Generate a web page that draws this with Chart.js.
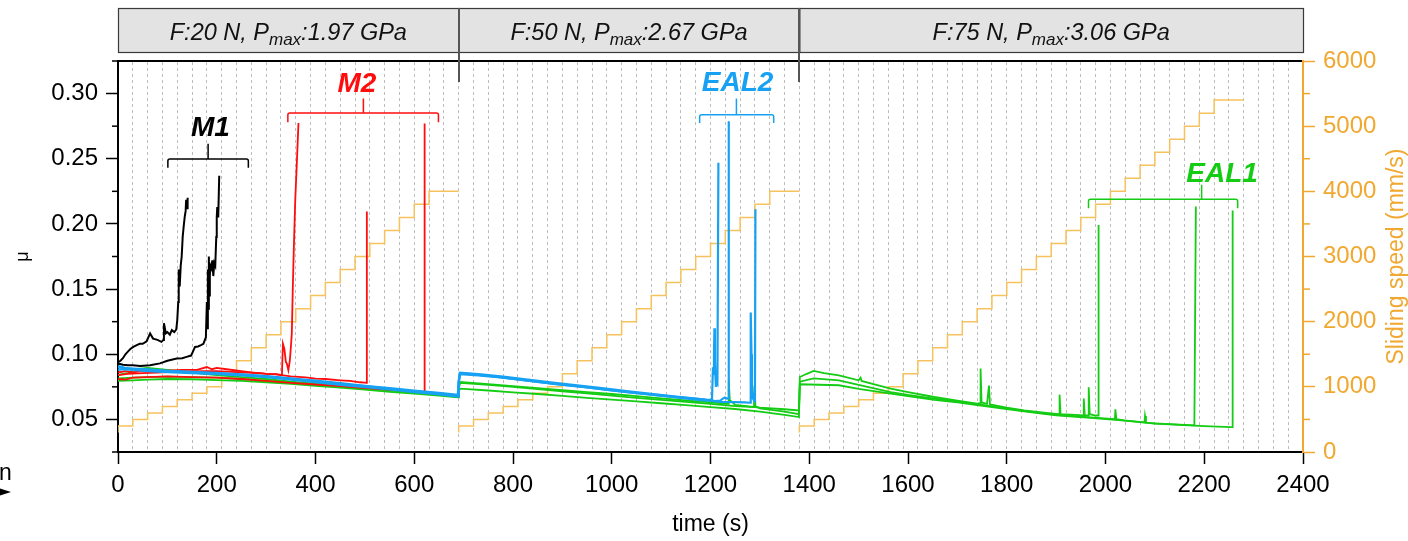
<!DOCTYPE html>
<html><head><meta charset="utf-8">
<script src="https://cdn.jsdelivr.net/npm/chart.js@4/dist/chart.umd.min.js"></script>
<style>html,body{margin:0;padding:0;background:#fff;overflow:hidden}canvas{display:block}</style>
</head><body>
<canvas id="c" width="1408" height="541"></canvas>
<script>
// ---------- tick labels ----------
const timeTicks = [0, 200, 400, 600, 800, 1000, 1200, 1400, 1600, 1800, 2000, 2200, 2400];
const muTicks = [0.05, 0.10, 0.15, 0.20, 0.25, 0.30];
const muMinorTicks = [0.025, 0.075, 0.125, 0.175, 0.225, 0.275, 0.325];
const speedTicks = [0, 1000, 2000, 3000, 4000, 5000, 6000];
const speedMinorTicks = [500, 1500, 2500, 3500, 4500, 5500];

// ---------- load stages ----------
const stageBounds = [0, 690, 1380, 2400];
const stageLoad = ['F:20 N, P', 'F:50 N, P', 'F:75 N, P'];
const stagePressure = [':1.97 GPa', ':2.67 GPa', ':3.06 GPa'];

// ---------- sliding speed staircase ----------
const speedTime1 = [0,30,60,90,120,150,180,210,240,270,300,330,360,390,420,450,480,510,540,570,600,630,660,690];
const speedLevel1 = [300,400,500,600,700,800,900,1000,1200,1400,1600,1800,2000,2200,2400,2600,2800,3000,3200,3400,3600,3800,4000,4000];
const speedTime2 = [690,720,750,780,810,840,870,900,930,960,990,1020,1050,1080,1110,1140,1170,1200,1230,1260,1290,1320,1350,1380];
const speedLevel2 = [300,400,500,600,700,800,900,1000,1200,1400,1600,1800,2000,2200,2400,2600,2800,3000,3200,3400,3600,3800,4000,4000];
const speedTime3 = [1380,1410,1440,1470,1500,1530,1560,1590,1620,1650,1680,1710,1740,1770,1800,1830,1860,1890,1920,1950,1980,2010,2040,2070,2100,2130,2160,2190,2220,2250,2280];
const speedLevel3 = [300,400,500,600,700,800,900,1000,1200,1400,1600,1800,2000,2200,2400,2600,2800,3000,3200,3400,3600,3800,4000,4200,4400,4600,4800,5000,5200,5400,5400];

// ---------- friction: M1 (black) ----------
const m1aTime = [0,5,10,15,20,25,31,38,44,50,58,65,71,80,88,92,93,97,100,105,109,114,118,120,122,123,125,127,129,131,133,135,137,138,140,141];
const m1aMu = [0.094,0.095,0.097,0.1,0.102,0.104,0.1056,0.107,0.108,0.108,0.11,0.116,0.112,0.111,0.1095,0.111,0.1238,0.116,0.117,0.115,0.1185,0.117,0.119,0.126,0.14,0.165,0.152,0.168,0.175,0.19,0.198,0.205,0.21,0.2185,0.212,0.22];
const m1bTime = [0,10,20,30,45,65,85,100,119,130,139,148,156,162,168,173,176,178,180,181,182,183,184,185,186,187,189,191,193,195,197,199,200,201,203,205];
const m1bMu = [0.093,0.092,0.0915,0.0915,0.091,0.0915,0.093,0.095,0.0967,0.097,0.098,0.099,0.1056,0.106,0.107,0.108,0.111,0.113,0.14,0.12,0.165,0.135,0.175,0.145,0.16,0.168,0.166,0.172,0.16,0.17,0.168,0.19,0.205,0.213,0.205,0.237];

// ---------- friction: M2 (red) ----------
const m2aTime = [0,15,30,50,75,100,130,160,180,190,200,220,250,280,300,320,332,334,337,340,342,345,348,350,352,354,356,359,362,365.5];
const m2aMu = [0.086,0.087,0.086,0.0875,0.087,0.0875,0.088,0.088,0.0902,0.0885,0.0895,0.0885,0.087,0.0855,0.085,0.0848,0.084,0.108,0.104,0.094,0.0928,0.0877,0.095,0.105,0.116,0.15,0.18,0.2185,0.245,0.2774];
const m2bTime = [0,20,50,80,110,140,170,200,230,260,290,300,320,350,380,400,420,450,470,490,500,503,504];
const m2bMu = [0.084,0.085,0.0855,0.086,0.0865,0.0865,0.087,0.087,0.0865,0.086,0.0855,0.085,0.0845,0.083,0.0822,0.0813,0.081,0.08,0.0795,0.0785,0.0782,0.078,0.2095];
const m2cTime = [0,15,30,60,100,150,200,250,300,350,400,450,500,550,600,620,621];
const m2cMu = [0.081,0.0805,0.082,0.0825,0.083,0.0825,0.082,0.081,0.0795,0.078,0.0768,0.0755,0.074,0.0728,0.0715,0.071,0.277];

// ---------- friction: EAL2 (blue) ----------
const eal2aTime = [0,10,20,40,60,90,120,150,180,210,240,270,300,350,400,450,500,550,600,650,688,690,692,720,760,800,850,900,950,1000,1050,1100,1150,1190,1203,1205,1206,1207,1208,1209,1210,1211,1212,1214,1216];
const eal2aMu = [0.091,0.09,0.089,0.0885,0.088,0.0875,0.0868,0.086,0.0855,0.085,0.0845,0.0838,0.083,0.081,0.079,0.077,0.0755,0.0735,0.0715,0.0697,0.068,0.079,0.0855,0.0845,0.083,0.081,0.0788,0.0765,0.0745,0.0722,0.0703,0.0683,0.0665,0.0652,0.065,0.09,0.085,0.1,0.12,0.095,0.083,0.075,0.078,0.077,0.247];
const eal2bTime = [0,10,30,60,100,150,200,250,300,350,400,450,500,550,600,650,689,690,693,730,780,830,880,930,980,1030,1080,1130,1180,1210,1220,1225,1229,1233,1236,1237];
const eal2bMu = [0.088,0.0885,0.088,0.087,0.0862,0.0855,0.0848,0.0838,0.0825,0.0805,0.0785,0.0765,0.0748,0.073,0.071,0.0692,0.0675,0.078,0.0848,0.0838,0.082,0.0798,0.0775,0.0755,0.0733,0.071,0.069,0.0668,0.0648,0.064,0.0645,0.066,0.0668,0.066,0.0662,0.2787];
const eal2cTime = [0,10,30,60,100,150,200,250,300,350,400,450,500,550,600,650,689,690,693,730,780,830,880,930,980,1030,1080,1130,1180,1220,1250,1270,1280,1281,1282,1283,1284,1285,1286,1288,1290,1291];
const eal2cMu = [0.09,0.0895,0.089,0.0885,0.0872,0.0865,0.0858,0.0845,0.0833,0.0815,0.0798,0.0778,0.0758,0.074,0.0722,0.0703,0.0688,0.079,0.0858,0.0848,0.0828,0.0805,0.0783,0.0762,0.074,0.0718,0.0697,0.0675,0.0655,0.0635,0.0632,0.063,0.0628,0.09,0.132,0.1,0.075,0.07,0.066,0.0645,0.064,0.2113];

// ---------- friction: EAL1 (green) ----------
const eal1aTime = [0,10,20,30,32,60,100,150,200,250,300,350,400,450,500,550,600,650,689,690,693,750,800,850,900,950,1000,1050,1100,1150,1200,1236,1237,1239,1250,1300,1350,1379,1381,1395,1409,1430,1460,1500,1504,1506,1530,1565,1600,1653,1700,1740,1746,1747,1749,1760,1764,1766,1800,1835,1880,1906,1907,1909,1940,1955,1956,1958,1965,1966,1968,1980,1985,1986];
const eal1aMu = [0.084,0.085,0.0855,0.087,0.0885,0.0895,0.088,0.086,0.084,0.0825,0.081,0.079,0.0775,0.0762,0.075,0.073,0.0715,0.0698,0.0685,0.075,0.0787,0.077,0.0755,0.074,0.0725,0.071,0.0695,0.0678,0.0662,0.0645,0.063,0.062,0.08,0.065,0.0612,0.059,0.0578,0.0569,0.0825,0.085,0.0872,0.0855,0.0838,0.08,0.082,0.0795,0.077,0.0736,0.071,0.0672,0.0645,0.0621,0.0625,0.089,0.063,0.062,0.076,0.0615,0.059,0.0569,0.055,0.054,0.069,0.054,0.0535,0.053,0.066,0.0532,0.053,0.0746,0.054,0.053,0.053,0.1992];
const eal1bTime = [0,30,60,100,150,200,250,300,350,400,450,500,550,600,650,689,690,693,750,800,850,900,950,1000,1050,1100,1150,1200,1250,1288,1289,1291,1300,1350,1379,1381,1409,1460,1500,1565,1600,1653,1700,1740,1800,1835,1900,1970,2019,2020,2022,2038,2079,2080,2082,2100,2150,2180,2183];
const eal1bMu = [0.0815,0.082,0.0825,0.0828,0.0825,0.082,0.081,0.0795,0.078,0.0768,0.0752,0.0738,0.0722,0.0705,0.0688,0.0675,0.074,0.078,0.0765,0.075,0.0733,0.0716,0.07,0.0683,0.0666,0.065,0.0635,0.062,0.0602,0.0595,0.076,0.06,0.0585,0.056,0.054,0.079,0.0815,0.08,0.0765,0.071,0.0688,0.066,0.0638,0.0618,0.0585,0.0565,0.0535,0.0515,0.0502,0.0577,0.0502,0.0492,0.0478,0.0526,0.0475,0.047,0.046,0.0454,0.2133];
const eal1cTime = [0,30,60,100,150,200,250,300,350,400,450,500,550,600,650,689,690,693,750,800,850,900,950,1000,1050,1100,1150,1200,1250,1300,1350,1379,1381,1460,1500,1565,1600,1653,1700,1740,1800,1835,1900,1970,2038,2100,2180,2200,2254,2257,2257.5];
const eal1cMu = [0.0795,0.08,0.0805,0.081,0.0808,0.0802,0.0795,0.0785,0.0772,0.0758,0.0745,0.0728,0.0712,0.0698,0.0682,0.067,0.072,0.0736,0.0722,0.0708,0.0695,0.068,0.0665,0.0652,0.0638,0.0624,0.061,0.0595,0.058,0.056,0.0535,0.0518,0.077,0.0762,0.0735,0.0698,0.0678,0.065,0.063,0.061,0.058,0.0562,0.0532,0.0512,0.049,0.0468,0.0452,0.0448,0.0441,0.0441,0.2102];

// ---------- styles ----------
const C_BLACK = '#000000', C_RED = '#ff0d0d', C_BLUE = '#17a1f3', C_GREEN = '#14cc14';
const C_AXIS2 = '#f0a830', C_SPEED = '#f6c25e';
const FONT = '"Liberation Sans", Arial, Helvetica, sans-serif';

// annotation brackets (time s, mu)
const brackets = [
  {text:'M1', color:C_BLACK, x1:101, x2:264, xc:182.5, y:0.2498, tip:0.243, top:0.2615, tx:187, ty:0.2677},
  {text:'M2', color:C_RED, x1:344, x2:649, xc:497, y:0.2851, tip:0.278, top:0.2962, tx:484, ty:0.301},
  {text:'EAL2', color:C_BLUE, x1:1178, x2:1328, xc:1252.5, y:0.2838, tip:0.2775, top:0.2962, tx:1255, ty:0.3018},
  {text:'EAL1', color:C_GREEN, x1:1965.6, x2:2267.7, xc:2194.7, y:0.219, tip:0.2121, top:0.23, tx:2236, ty:0.2325}
];

const pts = (xs, ys) => xs.map((x, i) => ({x: x, y: ys[i]}));
const line = (label, xs, ys, color, width, order) => ({
  label, data: pts(xs, ys), borderColor: color, backgroundColor: color,
  borderWidth: width, pointRadius: 0, tension: 0, fill: false, order,
  xAxisID: 'x', yAxisID: 'y'
});

const speedData = pts(speedTime1, speedLevel1)
  .concat([{x: 690, y: null}], pts(speedTime2, speedLevel2))
  .concat([{x: 1380, y: null}], pts(speedTime3, speedLevel3));

Chart.defaults.font.family = FONT;

const decor = {
  id: 'decor',
  afterDraw(chart) {
    const ctx = chart.ctx;
    const xs = chart.scales.x, ys = chart.scales.y, y2 = chart.scales.y2;
    const area = chart.chartArea;
    ctx.save();
    // minor ticks left
    ctx.strokeStyle = '#000'; ctx.lineWidth = 1.5;
    muMinorTicks.forEach(v => {
      const p = ys.getPixelForValue(v);
      ctx.beginPath(); ctx.moveTo(area.left - 6, p); ctx.lineTo(area.left, p); ctx.stroke();
    });
    // minor ticks right
    ctx.strokeStyle = C_AXIS2;
    speedMinorTicks.forEach(v => {
      const p = y2.getPixelForValue(v);
      ctx.beginPath(); ctx.moveTo(area.right, p); ctx.lineTo(area.right + 7, p); ctx.stroke();
    });
    // stage header boxes
    const boxTop = 8, boxBot = 52;
    for (let i = 0; i < 3; i++) {
      const a = xs.getPixelForValue(stageBounds[i]);
      const b = xs.getPixelForValue(stageBounds[i + 1]);
      ctx.fillStyle = '#e3e3e3';
      ctx.fillRect(a, boxTop, b - a, boxBot - boxTop);
      ctx.strokeStyle = '#3a3a3a'; ctx.lineWidth = 1.2;
      ctx.strokeRect(a + 0.5, boxTop + 0.5, b - a, boxBot - boxTop);
      const fMain = 'italic 23.5px ' + FONT, fSub = 'italic 17px ' + FONT;
      ctx.font = fMain; const w1 = ctx.measureText(stageLoad[i]).width;
      const w3 = ctx.measureText(stagePressure[i]).width;
      ctx.font = fSub; const w2 = ctx.measureText('max').width;
      let x0 = (a + b) / 2 - (w1 + w2 + w3) / 2;
      const base = 40;
      ctx.fillStyle = '#111'; ctx.textAlign = 'left'; ctx.textBaseline = 'alphabetic';
      ctx.font = fMain; ctx.fillText(stageLoad[i], x0, base);
      ctx.font = fSub; ctx.fillText('max', x0 + w1, base + 5);
      ctx.font = fMain; ctx.fillText(stagePressure[i], x0 + w1 + w2, base);
    }
    // dividers
    ctx.strokeStyle = '#555'; ctx.lineWidth = 2;
    [stageBounds[1], stageBounds[2]].forEach(v => {
      const p = Math.round(xs.getPixelForValue(v));
      ctx.beginPath(); ctx.moveTo(p, boxTop); ctx.lineTo(p, 82); ctx.stroke();
    });
    // brackets and labels
    brackets.forEach(br => {
      const X1 = xs.getPixelForValue(br.x1), X2 = xs.getPixelForValue(br.x2), XC = xs.getPixelForValue(br.xc);
      const Y = ys.getPixelForValue(br.y), YT = ys.getPixelForValue(br.tip), YU = ys.getPixelForValue(br.top);
      ctx.strokeStyle = br.color; ctx.lineWidth = 1.5;
      ctx.beginPath();
      ctx.moveTo(X1, YT); ctx.lineTo(X1, Y + 2); ctx.quadraticCurveTo(X1, Y, X1 + 2, Y);
      ctx.lineTo(X2 - 2, Y); ctx.quadraticCurveTo(X2, Y, X2, Y + 2); ctx.lineTo(X2, YT);
      ctx.moveTo(XC, Y); ctx.lineTo(XC, YU);
      ctx.stroke();
      ctx.fillStyle = br.color; ctx.font = 'italic bold 28px ' + FONT;
      ctx.textAlign = 'center'; ctx.textBaseline = 'alphabetic';
      ctx.fillText(br.text, xs.getPixelForValue(br.tx), ys.getPixelForValue(br.ty));
    });
    // right axis title (bottom-to-top)
    ctx.save();
    ctx.translate(1397, (area.top + area.bottom) / 2);
    ctx.rotate(-Math.PI / 2);
    ctx.fillStyle = C_AXIS2; ctx.font = '23px ' + FONT;
    ctx.textAlign = 'center'; ctx.textBaseline = 'middle';
    ctx.fillText('Sliding speed (mm/s)', 0, 0);
    ctx.restore();
    // cropped legend remnant bottom-left
    ctx.fillStyle = '#000'; ctx.font = '23px ' + FONT; ctx.textAlign = 'left'; ctx.textBaseline = 'alphabetic';
    ctx.fillText('n', -1, 480);
    ctx.beginPath(); ctx.moveTo(0, 488.5); ctx.lineTo(11, 492); ctx.lineTo(0, 495.5); ctx.closePath(); ctx.fill();
    ctx.restore();
  }
};

new Chart(document.getElementById('c'), {
  type: 'line',
  data: {
    datasets: [
      line('EAL2 a', eal2aTime, eal2aMu, C_BLUE, 2.2, 1),
      line('EAL2 b', eal2bTime, eal2bMu, C_BLUE, 2.2, 1),
      line('EAL2 c', eal2cTime, eal2cMu, C_BLUE, 2.2, 1),
      line('M1 a', m1aTime, m1aMu, C_BLACK, 2, 2),
      line('M1 b', m1bTime, m1bMu, C_BLACK, 2, 2),
      line('M2 a', m2aTime, m2aMu, C_RED, 1.8, 3),
      line('M2 b', m2bTime, m2bMu, C_RED, 1.8, 3),
      line('M2 c', m2cTime, m2cMu, C_RED, 1.8, 3),
      line('EAL1 a', eal1aTime, eal1aMu, C_GREEN, 1.8, 4),
      line('EAL1 b', eal1bTime, eal1bMu, C_GREEN, 1.8, 4),
      line('EAL1 c', eal1cTime, eal1cMu, C_GREEN, 1.8, 4),
      {label: 'Sliding speed', data: speedData, borderColor: C_SPEED, backgroundColor: C_SPEED,
       borderWidth: 1.5, pointRadius: 0, stepped: 'after', spanGaps: false, fill: false, order: 5,
       xAxisID: 'x', yAxisID: 'y2'}
    ]
  },
  options: {
    responsive: false, animation: false, devicePixelRatio: 1,
    layout: {padding: {top: 61, left: 0, right: 0, bottom: 0}},
    plugins: {legend: {display: false}, tooltip: {enabled: false}},
    scales: {
      x: {
        type: 'linear', position: 'bottom', min: 0, max: 2400,
        afterBuildTicks: s => { s.ticks = timeTicks.map(v => ({value: v})); },
        afterFit: s => { s.height = 89; },
        ticks: {color: '#000', font: {size: 24}, padding: 7, maxRotation: 0, autoSkip: false, callback: v => String(v)},
        grid: {drawOnChartArea: false, drawTicks: true, tickLength: 12, tickColor: '#000', tickWidth: 1.5},
        border: {display: true, color: '#000', width: 2},
        title: {display: true, text: 'time (s)', color: '#000', font: {size: 23}, padding: {top: 0, bottom: 3}}
      },
      xg: {
        type: 'linear', position: 'top', min: 0, max: 2400,
        ticks: {display: false, stepSize: 30, maxTicksLimit: 200},
        grid: {color: '#bdbdbd', lineWidth: 1, drawTicks: false, tickLength: 0},
        border: {display: true, color: '#000', width: 2, dash: [3, 3]},
        afterFit: s => { s.height = 0; }
      },
      y: {
        position: 'left', min: 0.025, max: 0.325,
        afterBuildTicks: s => { s.ticks = muTicks.map(v => ({value: v})); },
        afterFit: s => { s.width = 118; },
        ticks: {color: '#000', font: {size: 24}, padding: 8, callback: v => Number(v).toFixed(2)},
        grid: {drawOnChartArea: false, tickLength: 12, tickColor: '#000', tickWidth: 1.5},
        border: {display: true, color: '#000', width: 2},
        title: {display: true, text: 'μ', color: '#000', font: {size: 18}, padding: {top: 12, bottom: 0}}
      },
      y2: {
        position: 'right', min: 0, max: 6000,
        afterBuildTicks: s => { s.ticks = speedTicks.map(v => ({value: v})); },
        afterFit: s => { s.width = 105; },
        ticks: {color: C_AXIS2, font: {size: 24}, padding: 8, callback: v => String(v)},
        grid: {drawOnChartArea: false, tickLength: 12, tickColor: C_AXIS2, tickWidth: 1.5},
        border: {display: true, color: C_AXIS2, width: 2}
      }
    }
  },
  plugins: [decor]
});
</script>
</body></html>
